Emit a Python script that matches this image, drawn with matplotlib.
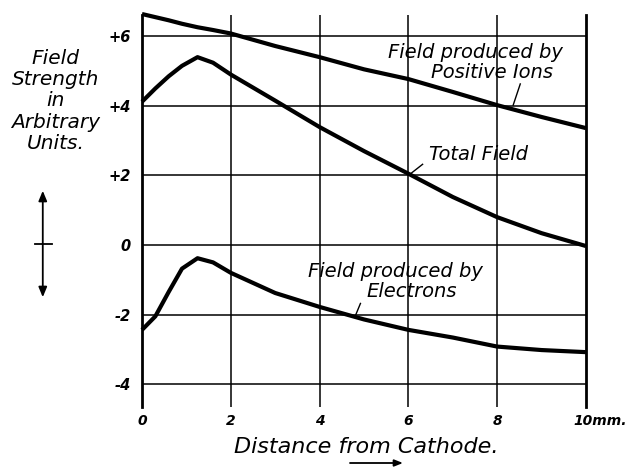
import matplotlib
matplotlib.use("Agg")
import matplotlib.pyplot as plt
import matplotlib.transforms as mtransforms

# distance from cathode (mm)
dist = [0, 0.3, 0.6, 0.9, 1.25, 1.6, 2, 3, 4, 5, 6, 7, 8, 9, 10]

# field strengths (arbitrary units)
positive_ions = [6.64, 6.55, 6.46, 6.36, 6.26, 6.18, 6.08, 5.72, 5.4, 5.05, 4.77, 4.4, 4.02, 3.68, 3.36]
total_field = [4.12, 4.5, 4.85, 5.15, 5.4, 5.24, 4.9, 4.15, 3.39, 2.7, 2.05, 1.38, 0.8, 0.34, -0.03]
electrons = [-2.44, -2.05, -1.35, -0.68, -0.38, -0.5, -0.8, -1.38, -1.78, -2.14, -2.44, -2.66, -2.92, -3.02, -3.08]

x_ticks = [0, 2, 4, 6, 8, 10]
x_tick_labels = ["0", "2", "4", "6", "8", "10mm."]
y_ticks = [-4, -2, 0, 2, 4, 6]
y_tick_labels = ["-4", "-2", "0", "+2", "+4", "+6"]

plt.rcParams["font.family"] = ["DejaVu Sans"]

fig = plt.figure(figsize=(6.29, 4.67), dpi=100)
ax = fig.add_axes([0.2258, 0.129, 0.7058, 0.838])
ax.set_xlim(0, 10)
ax.set_ylim(-4.65, 6.6)

# grid
for yv in y_ticks:
    ax.axhline(yv, color="black", lw=1.1, zorder=1)
for xv in x_ticks[1:-1]:
    ax.axvline(xv, color="black", lw=1.1, zorder=1)

for side in ["top", "bottom"]:
    ax.spines[side].set_visible(False)
for side in ["left", "right"]:
    ax.spines[side].set_linewidth(2.0)

# curves
for ys in (positive_ions, total_field, electrons):
    ax.plot(dist, ys, color="black", lw=3.0, solid_capstyle="butt",
            solid_joinstyle="round", zorder=3, clip_on=False)

ax.tick_params(length=0)
ax.set_xticks(x_ticks, labels=x_tick_labels, fontsize=10, fontweight="bold", fontstyle="italic")
ax.set_yticks(y_ticks, labels=y_tick_labels, fontsize=10.5, fontweight="bold", fontstyle="italic")
ax.tick_params(axis="x", pad=5)
ax.tick_params(axis="y", pad=8)
last = ax.get_xticklabels()[-1]
last.set_horizontalalignment("left")
last.set_transform(last.get_transform() + mtransforms.ScaledTranslation(-13 / 100, 0, fig.dpi_scale_trans))

# curve labels with leader lines
txt = dict(fontsize=14, fontstyle="italic", ha="center", va="center")
ax.text(7.5, 5.52, "Field produced by", **txt)
ax.text(7.88, 4.97, "Positive Ions", **txt)
ax.plot([8.52, 8.36], [4.63, 4.02], color="black", lw=1.0)
ax.text(7.57, 2.6, "Total Field", **txt)
ax.plot([6.32, 6.02], [2.32, 2.02], color="black", lw=1.0)
ax.text(5.7, -0.75, "Field produced by", **txt)
ax.text(6.08, -1.35, "Electrons", **txt)
ax.plot([4.92, 4.8], [-1.68, -2.05], color="black", lw=1.0)

# axis titles
fig.text(0.088, 0.784, "Field\nStrength\nin\nArbitrary\nUnits.", fontsize=14.5,
         fontstyle="italic", ha="center", va="center", multialignment="center", linespacing=1.15)
fig.text(0.582, 0.043, "Distance from Cathode.", fontsize=16, fontstyle="italic",
         ha="center", va="center")

# double arrow on the left and arrow under "from"
fig.add_artist(matplotlib.patches.FancyArrowPatch(
    (0.068, 1 - 300 / 467), (0.068, 1 - 188 / 467), transform=fig.transFigure,
    arrowstyle="<|-|>,head_length=6,head_width=2.5", color="black", lw=1.3))
fig.add_artist(matplotlib.lines.Line2D([0.055, 0.083], [1 - 244 / 467, 1 - 244 / 467],
                                       transform=fig.transFigure, color="black", lw=1.3))
fig.add_artist(matplotlib.patches.FancyArrowPatch(
    (0.552, 1 - 463 / 467), (0.645, 1 - 463 / 467), transform=fig.transFigure,
    arrowstyle="-|>,head_length=5,head_width=2", color="black", lw=1.3))

fig.savefig("out.png", dpi=100)
